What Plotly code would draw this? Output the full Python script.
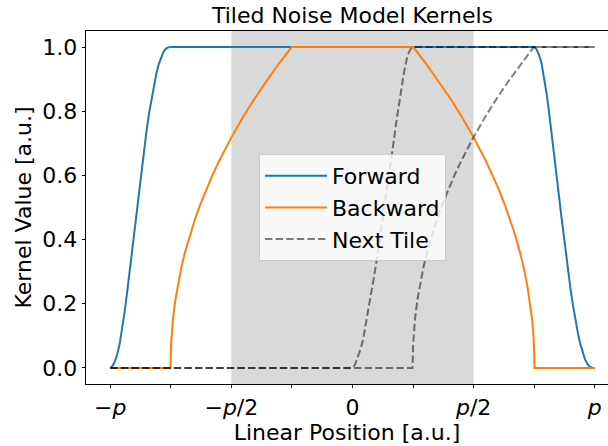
import plotly.graph_objects as go

# Positions are in units of the tile period p.
forward_x = [-1.0, -0.99, -0.98, -0.97, -0.96, -0.95, -0.94, -0.93, -0.92, -0.91,
             -0.90, -0.89, -0.88, -0.87, -0.86, -0.85, -0.84, -0.83, -0.82, -0.81,
             -0.80, -0.79, -0.78, -0.77, -0.76, -0.75,
             0.75, 0.76, 0.77, 0.78, 0.79, 0.80, 0.81, 0.82, 0.83, 0.84,
             0.85, 0.86, 0.87, 0.88, 0.89, 0.90, 0.91, 0.92, 0.93, 0.94,
             0.95, 0.96, 0.97, 0.98, 0.99, 1.0]
forward_y = [0.0, 0.007, 0.022, 0.045, 0.08, 0.125, 0.178, 0.237, 0.30, 0.365,
             0.43, 0.497, 0.563, 0.625, 0.685, 0.74, 0.792, 0.838, 0.88, 0.916,
             0.946, 0.969, 0.985, 0.995, 0.999, 1.0,
             1.0, 0.992, 0.975, 0.95, 0.91, 0.86, 0.805, 0.745, 0.68, 0.615,
             0.55, 0.485, 0.42, 0.36, 0.30, 0.245, 0.195, 0.15, 0.11, 0.075,
             0.047, 0.026, 0.012, 0.004, 0.001, 0.0]

backward_x = [-1.0, -0.751, -0.749, -0.746, -0.741, -0.731, -0.721, -0.706, -0.691,
              -0.671, -0.651, -0.626, -0.601, -0.576, -0.551, -0.501, -0.451, -0.401,
              -0.351, -0.301, -0.251,
              0.251, 0.301, 0.351, 0.401, 0.451, 0.501, 0.551, 0.576, 0.601, 0.626,
              0.651, 0.671, 0.691, 0.706, 0.721, 0.731, 0.741, 0.746, 0.749, 0.751,
              1.0]
backward_y = [0.0, 0.0, 0.071, 0.11, 0.153, 0.213, 0.259, 0.315, 0.361,
              0.415, 0.462, 0.514, 0.561, 0.604, 0.644, 0.717, 0.783, 0.843,
              0.898, 0.951, 1.0,
              1.0, 0.951, 0.898, 0.843, 0.783, 0.717, 0.644, 0.604, 0.561, 0.514,
              0.462, 0.415, 0.361, 0.315, 0.259, 0.213, 0.153, 0.11, 0.071, 0.0,
              0.0]

# Kernels of the neighbouring tile
next_a_x = [-1.0, 0.0, 0.010, 0.022, 0.033, 0.043, 0.055, 0.066, 0.078, 0.091,
            0.102, 0.112, 0.122, 0.132, 0.143, 0.153, 0.162, 0.171, 0.180, 0.190,
            0.200, 0.212, 0.226, 0.238, 0.25, 1.0]
next_a_y = [0.0, 0.0, 0.01, 0.034, 0.058, 0.086, 0.135, 0.19, 0.24, 0.294,
            0.347, 0.399, 0.45, 0.503, 0.555, 0.607, 0.66, 0.711, 0.763, 0.815,
            0.865, 0.919, 0.971, 0.992, 1.0, 1.0]

next_b_x = [-1.0, 0.248, 0.250, 0.253, 0.258, 0.268, 0.278, 0.293, 0.308, 0.328,
            0.348, 0.373, 0.398, 0.423, 0.448, 0.498, 0.548, 0.598, 0.648, 0.698,
            0.748, 1.0]
next_b_y = [0.0, 0.0, 0.071, 0.11, 0.153, 0.213, 0.259, 0.315, 0.361, 0.415,
            0.462, 0.514, 0.561, 0.604, 0.644, 0.717, 0.783, 0.843, 0.898, 0.951,
            1.0, 1.0]

tick_vals = [-1.0, -0.75, -0.5, -0.25, 0.0, 0.25, 0.5, 0.75, 1.0]
tick_text = ["\u2212<i>p</i>", "", "\u2212<i>p</i>/2", "", "0", "", "<i>p</i>/2", "", "<i>p</i>"]
y_ticks = [0.0, 0.2, 0.4, 0.6, 0.8, 1.0]
tile_span = [-0.5, 0.5]

BLUE = "#1f77b4"
ORANGE = "#ff7f0e"
DASH_COLOR = "rgba(0,0,0,0.5)"
DASH = "7.4px,3.2px"
FONT = "DejaVu Sans"

fig = go.Figure()
fig.add_trace(go.Scatter(x=forward_x, y=forward_y, mode="lines", name="Forward",
                         line=dict(color=BLUE, width=2)))
fig.add_trace(go.Scatter(x=backward_x, y=backward_y, mode="lines", name="Backward",
                         line=dict(color=ORANGE, width=2)))
fig.add_trace(go.Scatter(x=next_a_x, y=next_a_y, mode="lines", name="Next Tile",
                         line=dict(color=DASH_COLOR, width=2, dash=DASH)))
fig.add_trace(go.Scatter(x=next_b_x, y=next_b_y, mode="lines", name="Next Tile",
                         showlegend=False,
                         line=dict(color=DASH_COLOR, width=2, dash=DASH)))

# Shaded current tile
fig.add_shape(type="rect", xref="x", yref="paper", x0=tile_span[0], x1=tile_span[1],
              y0=0, y1=1, fillcolor="rgba(128,128,128,0.3)", line_width=0, layer="below")

axis_common = dict(showgrid=False, zeroline=False, showline=True, linecolor="black",
                   linewidth=0.8, ticks="outside", ticklen=3.5, tickwidth=0.8,
                   tickcolor="black", tickfont=dict(family=FONT, size=22, color="black"))

fig.update_xaxes(range=[-1.1, 1.0545], tickvals=tick_vals, ticktext=tick_text,
                 mirror=True, title=dict(text="Linear Position [a.u.]",
                                         font=dict(family=FONT, size=22, color="black"),
                                         standoff=4),
                 **axis_common)
fig.update_yaxes(range=[-0.05, 1.05], tickvals=y_ticks, tickformat=".1f",
                 title=dict(text="Kernel Value [a.u.]",
                            font=dict(family=FONT, size=22, color="black"),
                            standoff=4),
                 **axis_common)

fig.update_layout(
    width=608, height=446,
    margin=dict(l=86, r=0, t=31, b=62),
    plot_bgcolor="white", paper_bgcolor="white",
    font=dict(family=FONT, size=22, color="black"),
    title=dict(text="Tiled Noise Model Kernels", x=352.5 / 608, xref="container",
               xanchor="center", y=1 - 15 / 446, yanchor="middle",
               font=dict(family=FONT, size=22, color="black")),
    legend=dict(x=(352.5 - 86) / 522, y=0.5, xanchor="center", yanchor="middle",
                bgcolor="rgba(255,255,255,0.8)", bordercolor="#cccccc", borderwidth=1,
                font=dict(family=FONT, size=22, color="black"), itemwidth=62,
                tracegroupgap=0),
)

fig.write_html("out.html")
